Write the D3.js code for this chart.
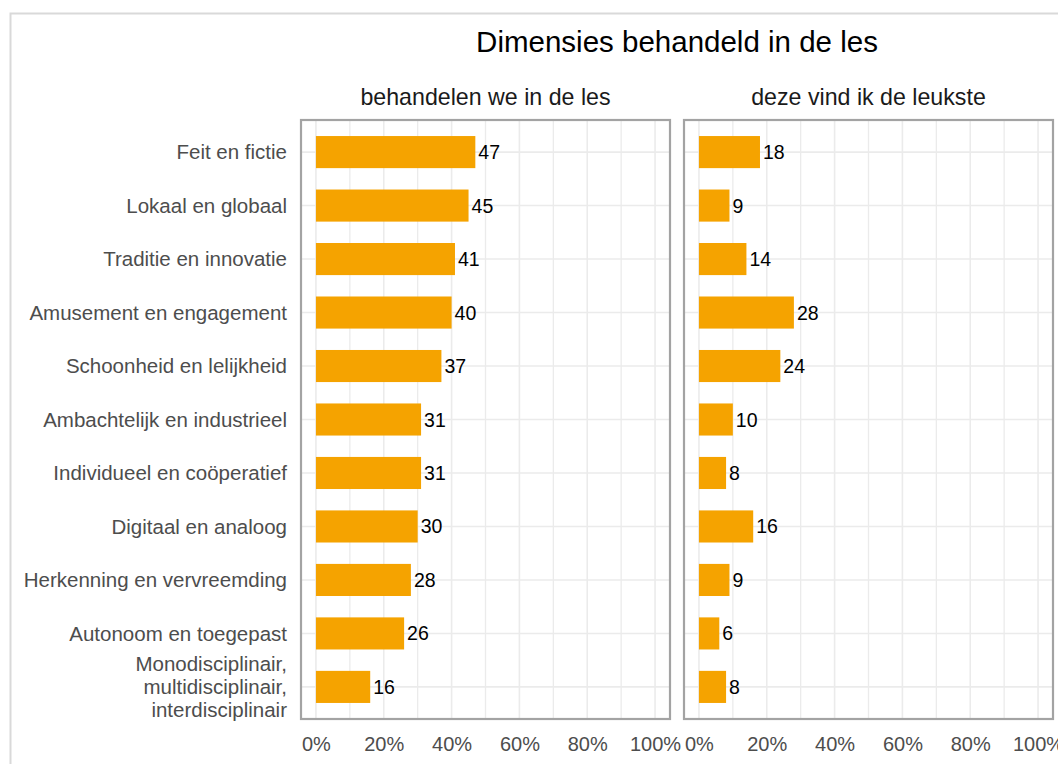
<!DOCTYPE html>
<html><head><meta charset="utf-8">
<script src="https://cdn.jsdelivr.net/npm/d3@7"></script>
<style>body{margin:0;background:#fff}svg{display:block;font-family:"Liberation Sans",Arial,sans-serif}</style>
</head><body><svg id="c" width="1058" height="764"></svg>
<script>
const title = "Dimensies behandeld in de les";
const categories = ["Feit en fictie","Lokaal en globaal","Traditie en innovatie","Amusement en engagement","Schoonheid en lelijkheid","Ambachtelijk en industrieel","Individueel en coöperatief","Digitaal en analoog","Herkenning en vervreemding","Autonoom en toegepast","Monodisciplinair, multidisciplinair, interdisciplinair"];
const categoryLines = [["Feit en fictie"],["Lokaal en globaal"],["Traditie en innovatie"],["Amusement en engagement"],["Schoonheid en lelijkheid"],["Ambachtelijk en industrieel"],["Individueel en coöperatief"],["Digitaal en analoog"],["Herkenning en vervreemding"],["Autonoom en toegepast"],["Monodisciplinair,","multidisciplinair,","interdisciplinair"]];
const panelTitles = ["behandelen we in de les","deze vind ik de leukste"];
const valuesTreated = [47,45,41,40,37,31,31,30,28,26,16];
const valuesFavourite = [18,9,14,28,24,10,8,16,9,6,8];
const majorTicks = [0,20,40,60,80,100];
const minorTicks = [10,30,50,70,90];
const tickFormat = d => d + "%";

const svg = d3.select("#c");
svg.append("rect").attr("x",10.5).attr("y",13.5).attr("width",1100).attr("height",800)
  .attr("fill","none").attr("stroke","#d9d9d9").attr("stroke-width",2);

const pTop = 120, pBottom = 719;
const panels = [
  {x0:301, x1:670, values:valuesTreated, title:panelTitles[0]},
  {x0:684, x1:1053, values:valuesFavourite, title:panelTitles[1]}
];
const y = d3.scalePoint().domain(categories).range([pTop,pBottom]).padding(0.6);
const barH = y.step()*0.6;

svg.append("text").attr("x",(301+1053)/2).attr("y",52).attr("text-anchor","middle")
  .attr("font-size",29.5).attr("fill","#000").text(title);

panels.forEach((p,pi)=>{
  const w = p.x1-p.x0, pad = w*0.0405;
  const x = d3.scaleLinear().domain([0,100]).range([p.x0+pad, p.x1-pad]);
  const g = svg.append("g");
  g.selectAll(".mn").data(minorTicks).join("line")
    .attr("x1",d=>x(d)).attr("x2",d=>x(d)).attr("y1",pTop).attr("y2",pBottom)
    .attr("stroke","#ebebeb").attr("stroke-width",1.3);
  g.selectAll(".mj").data(majorTicks).join("line")
    .attr("x1",d=>x(d)).attr("x2",d=>x(d)).attr("y1",pTop).attr("y2",pBottom)
    .attr("stroke","#ebebeb").attr("stroke-width",1.6);
  g.selectAll(".hy").data(categories).join("line")
    .attr("x1",p.x0).attr("x2",p.x1).attr("y1",d=>y(d)).attr("y2",d=>y(d))
    .attr("stroke","#ebebeb").attr("stroke-width",1.6);
  g.selectAll(".bar").data(categories).join("rect")
    .attr("x",x(0)).attr("y",d=>y(d)-barH/2)
    .attr("width",(d,i)=>x(p.values[i])-x(0)).attr("height",barH)
    .attr("fill","#f5a300");
  g.selectAll(".lbl").data(categories).join("text")
    .attr("x",(d,i)=>x(p.values[i])+3).attr("y",d=>y(d)).attr("dy","0.36em")
    .attr("font-size",19.5).attr("fill","#000").text((d,i)=>p.values[i]);
  g.append("rect").attr("x",p.x0).attr("y",pTop).attr("width",w).attr("height",pBottom-pTop)
    .attr("fill","none").attr("stroke","#a3a3a3").attr("stroke-width",2.2);
  g.append("text").attr("x",(p.x0+p.x1)/2).attr("y",105).attr("text-anchor","middle")
    .attr("font-size",23.2).attr("fill","#1a1a1a").text(p.title);
  const ax = d3.axisBottom(x).tickValues(majorTicks).tickFormat(tickFormat).tickSize(0).tickPadding(0);
  const axg = svg.append("g").attr("transform",`translate(0,${pBottom})`).call(ax);
  axg.select(".domain").remove();
  axg.selectAll("text").attr("y",32).attr("dy",0).attr("font-size",20)
    .attr("font-family","Liberation Sans, Arial, sans-serif").attr("fill","#4d4d4d");
});

const lab = svg.append("g");
categories.forEach((c,i)=>{
  const lines = categoryLines[i];
  const lh = 23;
  const t = lab.append("text").attr("text-anchor","end").attr("font-size",20.5).attr("fill","#4d4d4d");
  lines.forEach((l,j)=>{
    t.append("tspan").attr("x",287).attr("y",y(c)+(j-(lines.length-1)/2)*lh).attr("dy","0.36em").text(l);
  });
});
</script></body></html>
